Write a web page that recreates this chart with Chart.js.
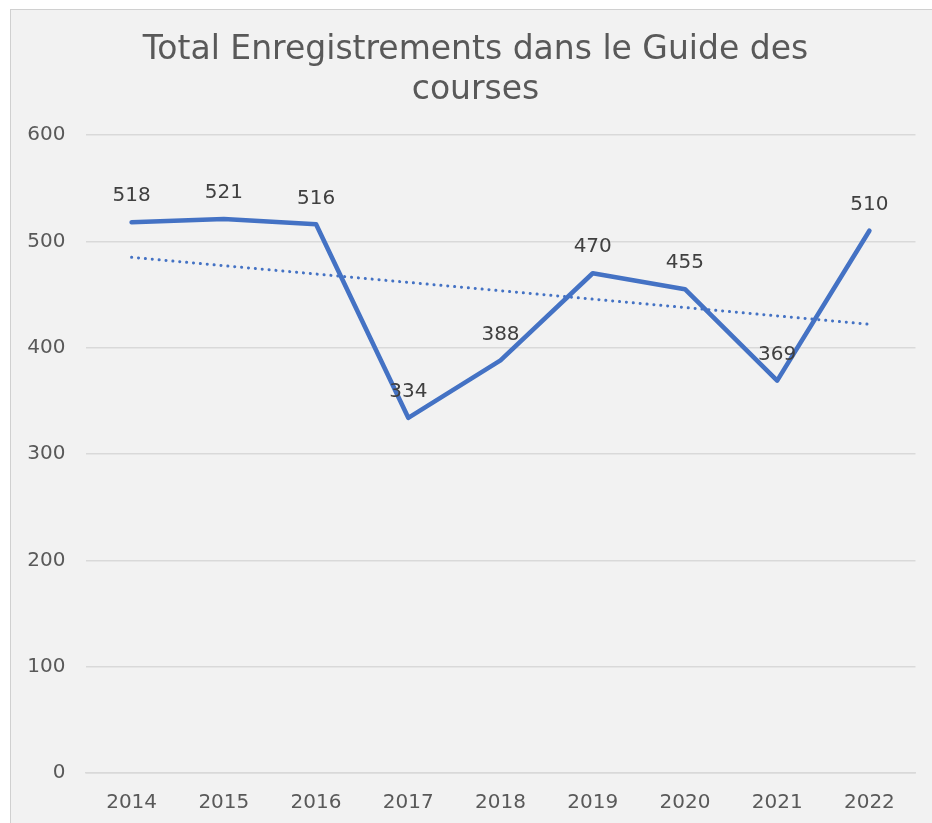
<!DOCTYPE html>
<html>
<head>
<meta charset="utf-8">
<script src="https://cdn.jsdelivr.net/npm/chart.js@4"></script>
<style>
  html, body { margin: 0; padding: 0; background: #ffffff; width: 932px; height: 823px; overflow: hidden; }
  #frame { position: absolute; left: 10px; top: 9px; width: 940px; height: 822px; background: #f2f2f2; border: 1px solid #d0d0d0; box-sizing: border-box; }
  #c { position: absolute; left: 0; top: 0; }
</style>
</head>
<body>
<div id="frame"><canvas id="c" width="918" height="812"></canvas></div>
<script>
const titleLines = ['Total Enregistrements dans le Guide des', 'courses'];
const years = ['2014', '2015', '2016', '2017', '2018', '2019', '2020', '2021', '2022'];
const registrations = [518, 521, 516, 334, 388, 470, 455, 369, 510];
const trendline = [485, null, null, null, null, null, null, null, 422];
const yTicks = [0, 100, 200, 300, 400, 500, 600];

const FONT = "'DejaVu Sans', Verdana, sans-serif";

const labelPlugin = {
  id: 'pointLabels',
  afterDatasetsDraw(chart) {
    const meta = chart.getDatasetMeta(0);
    const ctx = chart.ctx;
    ctx.save();
    ctx.font = '20px ' + FONT;
    ctx.fillStyle = '#404040';
    ctx.textAlign = 'center';
    ctx.textBaseline = 'middle';
    meta.data.forEach((pt, i) => {
      ctx.fillText(String(registrations[i]), pt.x, pt.y - 26);
    });
    ctx.restore();
  }
};

new Chart(document.getElementById('c'), {
  type: 'line',
  data: {
    labels: years,
    datasets: [
      {
        data: registrations,
        borderColor: '#4472c4',
        borderWidth: 4.6,
        pointRadius: 0,
        tension: 0,
        borderJoinStyle: 'round',
        borderCapStyle: 'round',
        fill: false
      },
      {
        data: trendline,
        spanGaps: true,
        borderColor: '#4472c4',
        borderWidth: 3,
        borderDash: [0.1, 6.8],
        borderCapStyle: 'round',
        pointRadius: 0,
        fill: false
      }
    ]
  },
  options: {
    responsive: false,
    animation: false,
    layout: { padding: { left: 15, right: 4, top: 0, bottom: 0 } },
    plugins: {
      legend: { display: false },
      tooltip: { enabled: false },
      title: {
        display: true,
        text: titleLines,
        color: '#595959',
        font: { family: FONT, size: 33, weight: 'normal', lineHeight: 1.212 },
        padding: { top: 20, bottom: 25 }
      }
    },
    scales: {
      x: {
        offset: true,
        grid: { display: false, drawTicks: false },
        border: { display: true, color: '#d9d9d9', width: 1.5 },
        ticks: { color: '#595959', font: { family: FONT, size: 20 }, padding: 18, maxRotation: 0 },
        afterFit(scale) { scale.height = 49; }
      },
      y: {
        min: 0,
        max: 600,
        afterBuildTicks(scale) { scale.ticks = yTicks.map(v => ({ value: v })); },
        afterFit(scale) { scale.width = 59.5; },
        grid: { color: '#d9d9d9', lineWidth: 1.5, drawTicks: false },
        border: { display: false },
        ticks: { color: '#595959', font: { family: FONT, size: 20 }, padding: 20 }
      },
      yRightSpacer: {
        type: 'linear',
        position: 'right',
        min: 0,
        max: 600,
        grid: { display: false, drawTicks: false },
        border: { display: false },
        ticks: { display: false },
        afterFit(scale) { scale.width = 9.5; }
      }
    }
  },
  plugins: [labelPlugin]
});
</script>
</body>
</html>
